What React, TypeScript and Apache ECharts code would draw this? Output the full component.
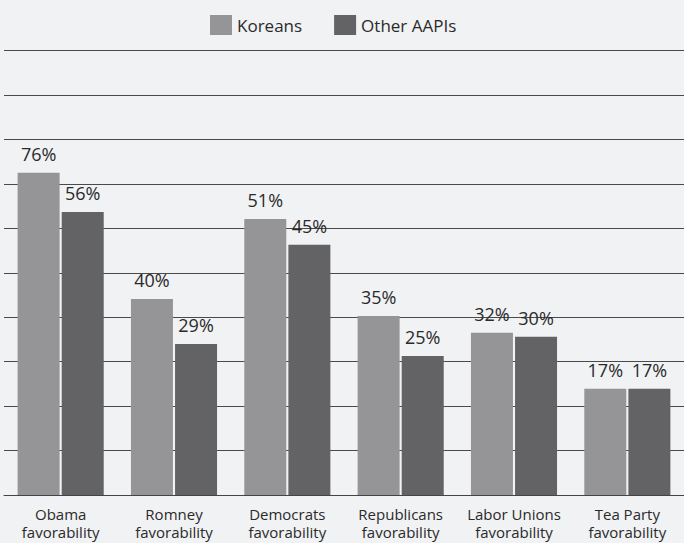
import React, { useEffect, useRef } from "react";
import * as echarts from "echarts";

// Categories (x axis)
const categories = [
  "Obama\nfavorability",
  "Romney\nfavorability",
  "Democrats\nfavorability",
  "Republicans\nfavorability",
  "Labor Unions\nfavorability",
  "Tea Party\nfavorability",
];

// Series names
const seriesNames = ["Koreans", "Other AAPIs"];

const koreansBars = [72.5, 44.1, 62.1, 40.3, 36.5, 23.9];
const otherBars = [63.7, 34.0, 56.3, 31.3, 35.6, 23.9];

// Value labels printed above the bars
const koreansLabels = ["76%", "40%", "51%", "35%", "32%", "17%"];
const otherLabels = ["56%", "29%", "45%", "25%", "30%", "17%"];

// Value axis
const yMin = 0;
const yMax = 100;
const yInterval = 10;

const FONT = "'Open Sans', 'Noto Sans', sans-serif";

export default function App() {
  const ref = useRef<HTMLDivElement>(null);

  useEffect(() => {
    document.body.style.margin = "0";
    document.body.style.background = "#f1f2f4";
    if (!ref.current) return;
    const chart = echarts.init(ref.current, undefined, { renderer: "svg" });

    const makeSeries = (name: string, values: number[], labels: string[], color: string) => ({
      name,
      type: "bar",
      data: values,
      barWidth: 42,
      barGap: "5%",
      itemStyle: { color },
      label: {
        show: true,
        position: "top",
        distance: 10,
        fontFamily: FONT,
        fontSize: 18,
        color: "#2a2a2a",
        formatter: (p: any) => labels[p.dataIndex],
      },
    });

    chart.setOption({
      animation: false,
      backgroundColor: "#f1f2f4",
      legend: {
        data: seriesNames,
        top: 10,
        left: 205,
        icon: "rect",
        itemWidth: 22,
        itemHeight: 20,
        itemGap: 32,
        textStyle: { fontFamily: FONT, fontSize: 17, color: "#2a2a2a" },
      },
      grid: { left: 4, right: -7, top: 50.6, bottom: 48, containLabel: false },
      xAxis: {
        type: "category",
        data: categories,
        axisLine: { show: true, lineStyle: { color: "#444444", width: 1 } },
        axisTick: { show: false },
        axisLabel: {
          interval: 0,
          margin: 10,
          fontFamily: FONT,
          fontSize: 15,
          lineHeight: 18.2,
          color: "#2a2a2a",
        },
      },
      yAxis: {
        type: "value",
        min: yMin,
        max: yMax,
        interval: yInterval,
        axisLine: { show: false },
        axisTick: { show: false },
        axisLabel: { show: false },
        splitLine: { show: true, lineStyle: { color: "#4a4a4a", width: 1 } },
      },
      series: [
        makeSeries(seriesNames[0], koreansBars, koreansLabels, "#959598"),
        makeSeries(seriesNames[1], otherBars, otherLabels, "#636365"),
      ],
    });

    return () => {
      chart.dispose();
    };
  }, []);

  return <div ref={ref} style={{ width: 684, height: 543, background: "#f1f2f4" }} />;
}
